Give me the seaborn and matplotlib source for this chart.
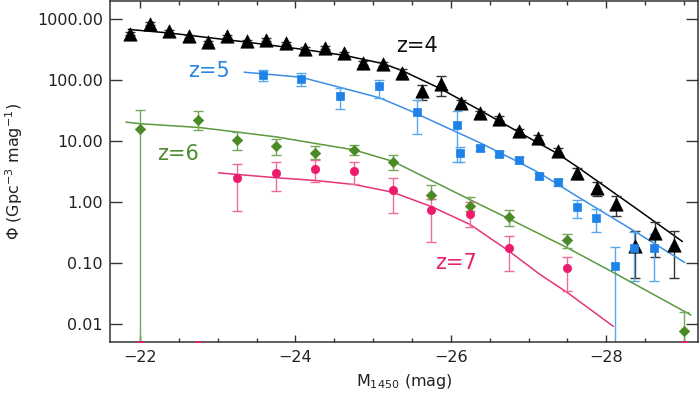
import numpy as np
import pandas as pd
import matplotlib
matplotlib.use("Agg")
import matplotlib.pyplot as plt
import seaborn as sns
from matplotlib.ticker import FixedLocator, MultipleLocator, NullLocator, FormatStrFormatter

# ---- data ----
# z=4 (triangles)
z4_mag = [-21.875, -22.125, -22.375, -22.625, -22.875, -23.125, -23.375, -23.625, -23.875, -24.125,
          -24.375, -24.625, -24.875, -25.125, -25.375, -25.625, -25.875, -26.125, -26.375, -26.625,
          -26.875, -27.125, -27.375, -27.625, -27.875, -28.125, -28.375, -28.625, -28.875]
z4_phi = [574, 837, 633, 518, 418, 518, 434, 457, 402, 325,
          338, 275, 189, 184, 129, 65.5, 86.6, 42.2, 28.9, 23.1,
          14.4, 11.1, 6.7, 3.0, 1.70, 0.93, 0.185, 0.305, 0.197]
z4_lo = [540, 790, 600, 490, 395, 490, 410, 430, 378, 305,
         318, 258, 176, 170, 102, 47.3, 54.2, 38, 26.5, 21,
         13, 9.8, 5.9, 2.41, 1.27, 0.58, 0.0565, 0.123, 0.0565]
z4_hi = [610, 885, 665, 545, 440, 545, 458, 485, 426, 345,
         358, 292, 202, 198, 150, 84, 114, 47, 31.5, 25.5,
         15.8, 12.5, 7.6, 3.6, 2.1, 1.25, 0.329, 0.462, 0.329]

# z=5 (squares)
z5_mag = [-23.58, -24.07, -24.57, -25.08, -25.57, -26.08, -26.12, -26.38, -26.62, -26.88,
          -27.13, -27.38, -27.62, -27.87, -28.11, -28.36, -28.62]
z5_phi = [122, 105, 53.6, 78.2, 29.6, 17.9, 6.28, 7.59, 6.14, 4.9,
          2.70, 2.10, 0.815, 0.546, 0.090, 0.176, 0.176]
z5_lo = [94.8, 78.2, 32.8, 51, 13.1, 4.47, 4.47, 6.9, 5.6, 4.4,
         2.4, 1.85, 0.546, 0.317, 0.001, 0.050, 0.050]
z5_hi = [147, 129, 74.5, 101, 46, 31.5, 7.9, 8.3, 6.7, 5.4,
         3.0, 2.35, 1.08, 0.77, 0.18, 0.325, 0.30]

# z=6 (diamonds)
z6_mag = [-22.0, -22.75, -23.25, -23.75, -24.25, -24.75, -25.25, -25.75, -26.25, -26.75, -27.5, -29.0]
z6_phi = [15.8, 22.4, 10.5, 8.19, 6.38, 6.96, 4.47, 1.30, 0.87, 0.574, 0.238, 0.0077]
z6_lo = [0.001, 15.2, 7.14, 5.76, 5.08, 5.76, 3.39, 1.12, 0.72, 0.408, 0.176, 0.001]
z6_hi = [32.4, 30.8, 13.9, 10.8, 8.4, 8.6, 5.76, 1.9, 1.19, 0.74, 0.298, 0.0154]

# z=7 (circles)
z7_mag = [-22.0, -22.75, -23.25, -23.75, -24.25, -24.75, -25.25, -25.75, -26.25, -26.75, -27.5, -29.0]
z7_phi = [0.0045, 0.0045, 2.44, 2.95, 3.48, 3.18, 1.57, 0.74, 0.62, 0.173, 0.0813, 0.0045]
z7_lo = [0.0045, 0.0045, 0.72, 1.49, 2.1, 1.97, 0.66, 0.217, 0.383, 0.074, 0.034, 0.0045]
z7_hi = [0.0045, 0.0045, 4.2, 4.47, 4.9, 4.47, 2.48, 1.1, 1.0, 0.28, 0.126, 0.0045]

# fitted curves
fit4_mag = [-21.85, -22.39, -23.37, -24.13, -24.63, -25.13, -25.38, -25.86, -26.38, -26.87,
            -27.37, -27.62, -28.35, -28.98]
fit4_phi = [675, 587, 418, 313, 253, 185, 141, 72.5, 31.6, 14.0, 6.21, 3.80, 0.837, 0.223]
fit5_mag = [-23.34, -24.07, -24.56, -25.08, -25.47, -25.86, -26.38, -26.87, -27.15, -27.62,
            -28.35, -29.01]
fit5_phi = [134, 111, 76.2, 51.0, 31.5, 18.6, 9.24, 4.50, 2.92, 1.24, 0.338, 0.101]
fit6_mag = [-21.82, -22.01, -22.76, -23.26, -23.76, -24.26, -24.75, -25.26, -25.75, -26.25,
            -26.75, -27.50, -28.11, -29.09]
fit6_phi = [20.3, 19.1, 16.6, 13.9, 11.6, 9.06, 7.14, 4.59, 2.24, 1.08, 0.526, 0.176, 0.0673, 0.0139]
fit7_mag = [-23.01, -23.26, -23.76, -24.26, -24.76, -25.25, -25.75, -26.25, -26.75, -27.15,
            -27.50, -28.09]
fit7_phi = [2.99, 2.81, 2.48, 2.24, 1.92, 1.44, 0.837, 0.424, 0.155, 0.064, 0.0324, 0.00906]

x_ticks = [-22, -24, -26, -28]
y_ticks = [0.01, 0.1, 1, 10, 100, 1000]

sns.set_style("ticks")
plt.rcParams['font.family'] = ['DejaVu Sans']

fig = plt.figure(figsize=(7, 3.96), dpi=100)
ax = fig.add_axes([0.1571, 0.1371, 0.84, 0.8604])

series = [
    (z4_mag, z4_phi, z4_lo, z4_hi, fit4_mag, fit4_phi, '^', 92, '#000000', '#000000', '#333333'),
    (z5_mag, z5_phi, z5_lo, z5_hi, fit5_mag, fit5_phi, 's', 36, '#1f82e6', '#3a8ee6', '#5aa8ec'),
    (z6_mag, z6_phi, z6_lo, z6_hi, fit6_mag, fit6_phi, 'D', 28, '#4a8a26', '#5b9a3c', '#74a85a'),
    (z7_mag, z7_phi, z7_lo, z7_hi, fit7_mag, fit7_phi, 'o', 36, '#ec1c6c', '#e8337a', '#ef6b9a'),
]

for mag, phi, lo, hi, fmag, fphi, mk, sz, mcol, lcol, ecol in series:
    phi_a = np.array(phi)
    yerr = [phi_a - np.array(lo), np.array(hi) - phi_a]
    sns.lineplot(x=fmag, y=fphi, ax=ax, color=lcol, lw=1.1, sort=False)
    ax.errorbar(mag, phi, yerr=yerr, fmt='none', ecolor=ecol, elinewidth=1.0,
                capsize=3.5, capthick=1.0)
    sns.scatterplot(x=mag, y=phi, ax=ax, marker=mk, s=sz, color=mcol,
                    edgecolor=mcol, linewidth=0.5, zorder=3)

ax.set_yscale('log')
ax.set_xlim(-21.614, -29.18)
ax.set_ylim(0.00507, 1974)

ax.xaxis.set_major_locator(FixedLocator(x_ticks))
ax.xaxis.set_minor_locator(MultipleLocator(0.5))
ax.yaxis.set_major_locator(FixedLocator(y_ticks))
ax.yaxis.set_minor_locator(NullLocator())
ax.yaxis.set_major_formatter(FormatStrFormatter('%.2f'))

ax.tick_params(which='both', direction='in', top=True, right=True, color='#333333',
               labelsize=11.5, labelcolor='#222222', width=1.0)
ax.tick_params(axis='y', which='major', length=8.4, pad=5)
ax.tick_params(axis='x', which='major', length=5, pad=6)
ax.tick_params(axis='x', which='minor', length=2.8)
for sp in ax.spines.values():
    sp.set_color('#333333')
    sp.set_linewidth(1.1)

ax.set_xlabel('M$_{1450}$ (mag)', fontsize=11.5, color='#222222', labelpad=5)
ax.set_ylabel('Φ (Gpc$^{-3}$ mag$^{-1}$)', fontsize=11.5, color='#222222', labelpad=9)

ax.text(-25.57, 362, 'z=4', color='#111111', fontsize=15, ha='center', va='center')
ax.text(-22.89, 139, 'z=5', color='#2784e0', fontsize=15, ha='center', va='center')
ax.text(-22.49, 6.14, 'z=6', color='#4b8a2e', fontsize=15, ha='center', va='center')
ax.text(-26.07, 0.098, 'z=7', color='#e8206e', fontsize=15, ha='center', va='center')

fig.savefig('out.png', dpi=100)
